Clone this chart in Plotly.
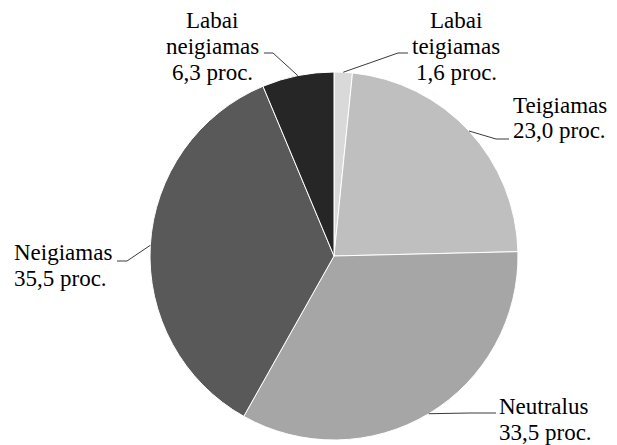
import math
import plotly.graph_objects as go

# Sentiment shares (percent), clockwise from 12 o'clock
categories = ["Labai teigiamas", "Teigiamas", "Neutralus", "Neigiamas", "Labai neigiamas"]
values = [1.6, 23.0, 33.5, 35.5, 6.3]
label_lines = [
    ["Labai", "teigiamas", "1,6 proc."],
    ["Teigiamas", "23,0 proc."],
    ["Neutralus", "33,5 proc."],
    ["Neigiamas", "35,5 proc."],
    ["Labai", "neigiamas", "6,3 proc."],
]
colors = ["#d9d9d9", "#bfbfbf", "#a6a6a6", "#595959", "#262626"]

W, H = 617, 445
CX, CY, R = 334, 256, 184  # pie centre and radius in pixels

# label layout: text anchor x, first line y, x alignment, leader elbow and end (pixels)
label_layout = [
    dict(x=456, y=20, align="center", elbow=(398, 53), end=(408, 53)),
    dict(x=511, y=105, align="left", elbow=(496, 139), end=(509, 139)),
    dict(x=497, y=406, align="left", elbow=(470, 413), end=(496, 413)),
    dict(x=12, y=252, align="left", elbow=(127, 261), end=(117, 261)),
    dict(x=212, y=20, align="center", elbow=(273, 53), end=(264, 53)),
]
LINE_GAP = 26
FONT = dict(family="Liberation Serif", size=23, color="#000000")


def px(x):
    return x / W


def py(y):
    return 1 - y / H


fig = go.Figure(
    go.Pie(
        labels=categories,
        values=values,
        sort=False,
        direction="clockwise",
        rotation=0,
        marker=dict(colors=colors, line=dict(color="#ffffff", width=1)),
        textinfo="none",
        hoverinfo="label+percent",
        domain=dict(x=[px(CX - R), px(CX + R)], y=[py(CY + R), py(CY - R)]),
        showlegend=False,
    )
)

total = sum(values)
annotations = []
shapes = []
cum = 0.0
for cat, val, lines, lay in zip(categories, values, label_lines, label_layout):
    mid = (cum + val / 2) / total * 2 * math.pi
    cum += val
    sx = CX + R * math.sin(mid)
    sy = CY - R * math.cos(mid)
    ex, ey = lay["elbow"]
    fx, fy = lay["end"]
    shapes.append(
        dict(
            type="path",
            xref="paper",
            yref="paper",
            path=f"M {px(sx)},{py(sy)} L {px(ex)},{py(ey)} L {px(fx)},{py(fy)}",
            line=dict(color="#3a3a3a", width=1),
        )
    )
    for i, line in enumerate(lines):
        annotations.append(
            dict(
                text=line,
                x=px(lay["x"]),
                y=py(lay["y"] + i * LINE_GAP),
                xref="paper",
                yref="paper",
                xanchor=lay["align"],
                yanchor="middle",
                showarrow=False,
                font=dict(FONT),
            )
        )

fig.update_layout(
    width=W,
    height=H,
    margin=dict(l=0, r=0, t=0, b=0),
    paper_bgcolor="#ffffff",
    plot_bgcolor="#ffffff",
    font=dict(family="Liberation Serif"),
    annotations=annotations,
    shapes=shapes,
)

fig.write_html("out.html")
